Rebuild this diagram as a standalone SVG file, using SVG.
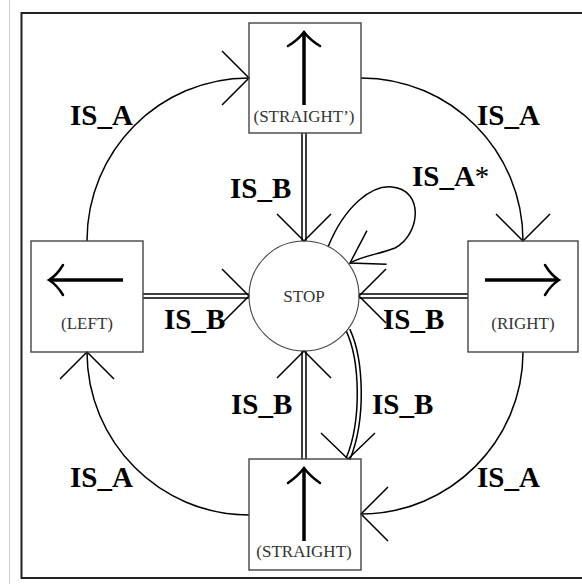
<svg xmlns="http://www.w3.org/2000/svg" width="582" height="584" viewBox="0 0 582 584">
  <style>
    .frame { fill: none; stroke: #222; stroke-width: 2; }
    .page { stroke: #ccc; stroke-width: 1; }
    .box { fill: none; stroke: #444; stroke-width: 1.4; }
    .state { fill: none; stroke: #444; stroke-width: 1.1; }
    .label { font-family: "Liberation Serif", "DejaVu Serif", serif; font-size: 17px; fill: #333; text-anchor: middle; }
    .edge-label { font-family: "Liberation Serif", "DejaVu Serif", serif; font-size: 29px; font-weight: bold; fill: #000; }
    .star { font-weight: normal; }
    .dir { fill: none; stroke: #000; stroke-width: 3.5; }
    .dir-head { fill: none; stroke: #000; stroke-width: 2.5; stroke-linecap: round; }
    .edge { fill: none; stroke: #000; stroke-width: 1.5; }
    .dbl-outer { fill: none; stroke: #000; stroke-width: 5.5; }
    .dbl-inner { fill: none; stroke: #fff; stroke-width: 2.5; }
  </style>
  <defs>
    <marker id="head" markerUnits="userSpaceOnUse" viewBox="-30 -30 60 60" markerWidth="60" markerHeight="60" refX="0" refY="0" orient="auto" overflow="visible">
      <path d="M-27,-27 L0,0 L-27,27" fill="none" stroke="#000" stroke-width="1.5"/>
    </marker>
    <marker id="head-narrow" markerUnits="userSpaceOnUse" viewBox="-35 -35 70 70" markerWidth="70" markerHeight="70" refX="0" refY="0" orient="auto" overflow="visible">
      <path d="M-31,-19.5 L0,0 L-31,19.5" fill="none" stroke="#000" stroke-width="1.5"/>
    </marker>
    <marker id="head-down" markerUnits="userSpaceOnUse" viewBox="-30 -30 60 60" markerWidth="60" markerHeight="60" refX="0" refY="0" orient="90" overflow="visible">
      <path d="M-26,-27 L0,0 L-26,27" fill="none" stroke="#000" stroke-width="1.5"/>
    </marker>
  </defs>

  <rect width="582" height="584" fill="#fff"/>
  <line class="page" x1="9.5" y1="0" x2="9.5" y2="584"/>
  <path class="frame" d="M590,13 H21.5 V578 H590"/>

  <!-- transitions -->
  <g id="connectors">
    <!-- IS_A ring -->
    <path class="edge" d="M87,241 C87,151 159,78 249,78" marker-end="url(#head)"/>
    <path class="edge" d="M361,78 C451,78 523,151 523,241" marker-end="url(#head)"/>
    <path class="edge" d="M523,352 C523,441 450,514 361,514" marker-end="url(#head)"/>
    <path class="edge" d="M249,515 C160,515 87,442 87,352" marker-end="url(#head)"/>
    <!-- IS_A* self loop on STOP -->
    <path class="edge" d="M328,247 C345,205 372,185 392,187 C425,190 420,235 395,248 C380,254 362,256 350,263" marker-end="url(#head-narrow)"/>
    <!-- IS_B double lines into STOP -->
    <path class="dbl-outer" d="M304,133 V241"/>
    <path class="dbl-inner" d="M304,133 V241" marker-end="url(#head)"/>
    <path class="dbl-outer" d="M304,459 V351"/>
    <path class="dbl-inner" d="M304,459 V351" marker-end="url(#head)"/>
    <path class="dbl-outer" d="M143,296 H249"/>
    <path class="dbl-inner" d="M143,296 H249" marker-end="url(#head)"/>
    <path class="dbl-outer" d="M468,296 H359"/>
    <path class="dbl-inner" d="M468,296 H359" marker-end="url(#head)"/>
    <!-- IS_B from STOP to STRAIGHT -->
    <path class="dbl-outer" d="M348,330 C362,360 364,420 348,459"/>
    <path class="dbl-inner" d="M348,330 C362,360 364,420 348,459" marker-end="url(#head-down)"/>
  </g>

  <g id="straight-prime">
    <rect class="box" x="249" y="23" width="112" height="110"/>
    <line class="dir" x1="304" y1="105" x2="304" y2="33"/>
    <path class="dir-head" d="M288,46 Q298,40 304,32 Q310,40 320,46"/>
    <text class="label" x="304" y="122">(STRAIGHT’)</text>
  </g>

  <g id="left">
    <rect class="box" x="31" y="241" width="112" height="111"/>
    <line class="dir" x1="123" y1="280" x2="50" y2="280"/>
    <path class="dir-head" d="M63,265 Q57,275 49,280 Q57,285 63,295"/>
    <text class="label" x="87" y="329">(LEFT)</text>
  </g>

  <g id="stop">
    <circle class="state" cx="304" cy="296" r="55"/>
    <text class="label" x="304" y="302">STOP</text>
  </g>

  <g id="right">
    <rect class="box" x="468" y="241" width="110" height="111"/>
    <line class="dir" x1="485" y1="280" x2="558" y2="280"/>
    <path class="dir-head" d="M545,265 Q551,275 559,280 Q551,285 545,295"/>
    <text class="label" x="523" y="329">(RIGHT)</text>
  </g>

  <g id="straight">
    <rect class="box" x="249" y="459" width="112" height="111"/>
    <line class="dir" x1="304" y1="541" x2="304" y2="469"/>
    <path class="dir-head" d="M288,483 Q298,476 304,468 Q310,476 320,483"/>
    <text class="label" x="304" y="557">(STRAIGHT)</text>
  </g>

  <g id="edge-labels">
    <text class="edge-label" x="70" y="125">IS_A</text>
    <text class="edge-label" x="477" y="125">IS_A</text>
    <text class="edge-label" x="412" y="186">IS_A<tspan class="star">*</tspan></text>
    <text class="edge-label" x="230" y="198">IS_B</text>
    <text class="edge-label" x="164" y="329">IS_B</text>
    <text class="edge-label" x="383" y="329">IS_B</text>
    <text class="edge-label" x="231" y="414">IS_B</text>
    <text class="edge-label" x="372" y="414">IS_B</text>
    <text class="edge-label" x="70" y="487">IS_A</text>
    <text class="edge-label" x="477" y="487">IS_A</text>
  </g>
</svg>
